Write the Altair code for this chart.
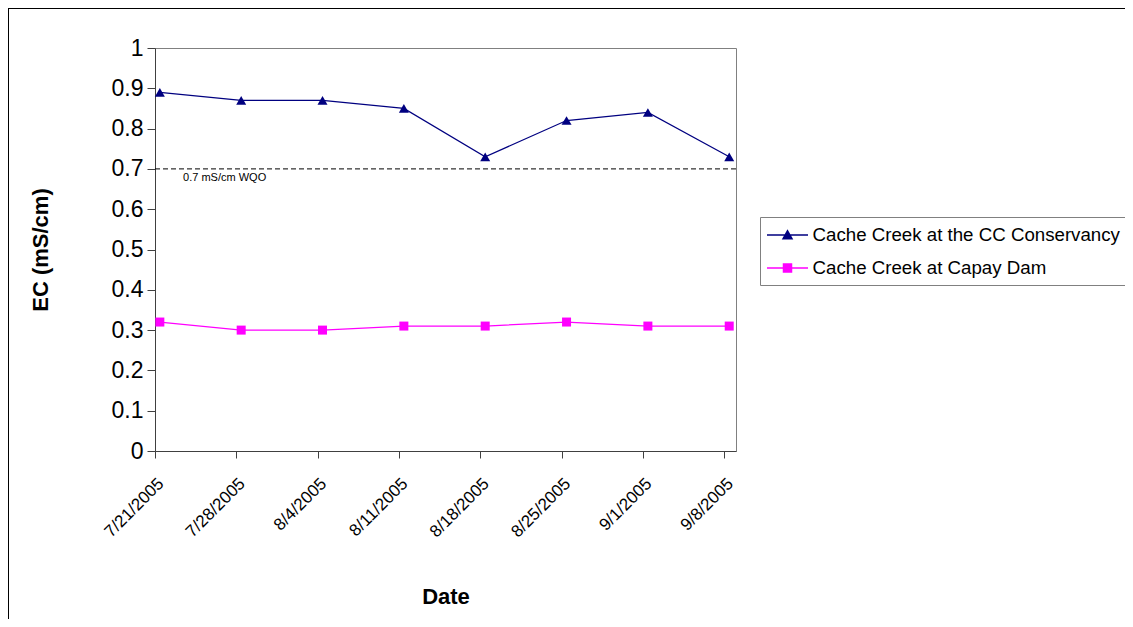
import altair as alt
import pandas as pd

# ---- data ----
dates = ["2005-07-21T10:00:00", "2005-07-28T10:00:00", "2005-08-04T10:00:00",
         "2005-08-11T10:00:00", "2005-08-18T10:00:00", "2005-08-25T10:00:00",
         "2005-09-01T10:00:00", "2005-09-08T10:00:00"]
conservancy = [0.89, 0.87, 0.87, 0.85, 0.73, 0.82, 0.84, 0.73]
capay = [0.32, 0.30, 0.30, 0.31, 0.31, 0.32, 0.31, 0.31]
series_names = ["Cache Creek at the CC Conservancy", "Cache Creek at Capay Dam"]
series_colors = ["#000080", "#FF00FF"]
tick_days = [(2005, 7, 21), (2005, 7, 28), (2005, 8, 4), (2005, 8, 11),
             (2005, 8, 18), (2005, 8, 25), (2005, 9, 1), (2005, 9, 8)]
domain_start = (2005, 7, 21)
domain_end = (2005, 9, 9)
y_ticks = [0, 0.1, 0.2, 0.3, 0.4, 0.5, 0.6, 0.7, 0.8, 0.9, 1]
wqo = [0.7]
wqo_label = ["0.7 mS/cm WQO"]
wqo_label_date = ["2005-07-23T10:00:00"]

FONT = "Liberation Sans"

rows = []
for d, v in zip(dates, conservancy):
    rows.append({"date": d, "value": v, "series": series_names[0]})
for d, v in zip(dates, capay):
    rows.append({"date": d, "value": v, "series": series_names[1]})
df = pd.DataFrame(rows)

def dt(t):
    return alt.DateTime(year=t[0], month=t[1], date=t[2])

x_enc = alt.X(
    "date:T",
    title="Date",
    scale=alt.Scale(domain=[dt(domain_start), dt(domain_end)]),
    axis=alt.Axis(
        values=[dt(t) for t in tick_days], format="%-m/%-d/%Y",
        labelAngle=-45, labelFontSize=17, labelPadding=17, tickSize=7,
        titleY=152, titleBaseline="alphabetic",
    ),
)
y_enc = alt.Y(
    "value:Q",
    title="EC (mS/cm)",
    scale=alt.Scale(domain=[0, 1]),
    axis=alt.Axis(
        values=y_ticks, format=".1~f", labelFontSize=23, tickSize=8,
        labelPadding=4, titleX=-108, titleY=201.5, titleBaseline="alphabetic",
    ),
)
color_scale = alt.Scale(domain=series_names, range=series_colors)

base = alt.Chart(df)

lines = base.mark_line(strokeWidth=1.2).encode(
    x=x_enc, y=y_enc,
    color=alt.Color("series:N", scale=color_scale, legend=None),
)

pts_tri = base.transform_filter(alt.datum.series == series_names[0]).mark_point(
    filled=True, opacity=1, shape="triangle-up", size=100
).encode(x="date:T", y="value:Q",
         color=alt.Color("series:N", scale=color_scale, legend=None))

pts_sq = base.transform_filter(alt.datum.series == series_names[1]).mark_point(
    filled=True, opacity=1, shape="square", size=81
).encode(x="date:T", y="value:Q",
         color=alt.Color("series:N", scale=color_scale, legend=None))

# legend glyphs: a line segment with a marker (marker drawn as nested outlines)
legend_paths = [
    "M-2.05,0H2.05"
    "M-0.45,0.38L0,-0.42L0.45,0.38Z"
    "M-0.315,0.3L0,-0.26L0.315,0.3Z"
    "M-0.18,0.22L0,-0.1L0.18,0.22Z"
    "M-0.054,0.145L0,0.049L0.054,0.145Z",
    "M-2.05,0H2.05"
    "M-0.4,-0.4H0.4V0.4H-0.4Z"
    "M-0.27,-0.27H0.27V0.27H-0.27Z"
    "M-0.14,-0.14H0.14V0.14H-0.14Z"
    "M-0.02,-0.02H0.02V0.02H-0.02Z",
]
legend_layer = base.mark_point(filled=False, opacity=0).encode(
    x="date:T", y="value:Q",
    color=alt.Color("series:N", scale=color_scale, legend=alt.Legend(title=None)),
    shape=alt.Shape("series:N", scale=alt.Scale(domain=series_names, range=legend_paths),
                    legend=alt.Legend(title=None)),
)

rule = alt.Chart(pd.DataFrame({"wqo": wqo})).mark_rule(
    color="black", strokeWidth=1, strokeDash=[5, 3]
).encode(y="wqo:Q")

note = alt.Chart(pd.DataFrame({"date": wqo_label_date, "wqo": wqo, "label": wqo_label})).mark_text(
    align="left", baseline="alphabetic", dy=12, fontSize=11, font=FONT, color="black"
).encode(x="date:T", y="wqo:Q", text="label:N")

frame_src = alt.Chart(pd.DataFrame({"k": [0]}))
frame_left = frame_src.mark_rule(color="black", strokeWidth=1).encode(
    x=alt.value(-146.5), y=alt.value(-40), y2=alt.value(700))
frame_top = frame_src.mark_rule(color="black", strokeWidth=1).encode(
    x=alt.value(-147), x2=alt.value(1000), y=alt.value(-39.5))

chart = alt.layer(frame_left, frame_top, rule, note, lines, pts_tri, pts_sq, legend_layer).resolve_scale(
    color="independent", shape="independent"
).properties(
    width=581, height=403,
    autosize=alt.AutoSizeParams(type="none"),
    padding={"left": 147, "top": 40, "right": 389, "bottom": 168},
    background="white",
).configure(font=FONT).configure_view(
    stroke="#808080", strokeWidth=1
).configure_axis(
    grid=False, domainColor="#404040", tickColor="#404040", labelColor="black",
    titleColor="black", titleFontSize=22, titleFontWeight="bold",
    labelFont=FONT, titleFont=FONT,
).configure_legend(
    orient="none", legendX=605, legendY=169, strokeColor="#808080",
    fillColor="white", padding=7, labelFont=FONT, labelFontSize=18.7,
    labelColor="black", symbolSize=400, symbolStrokeWidth=1.5,
    symbolOffset=9.5, labelOffset=14, rowPadding=12, symbolOpacity=1,
    labelLimit=0,
)

chart.save("out.html", embed_options={"renderer": "svg", "actions": False})
